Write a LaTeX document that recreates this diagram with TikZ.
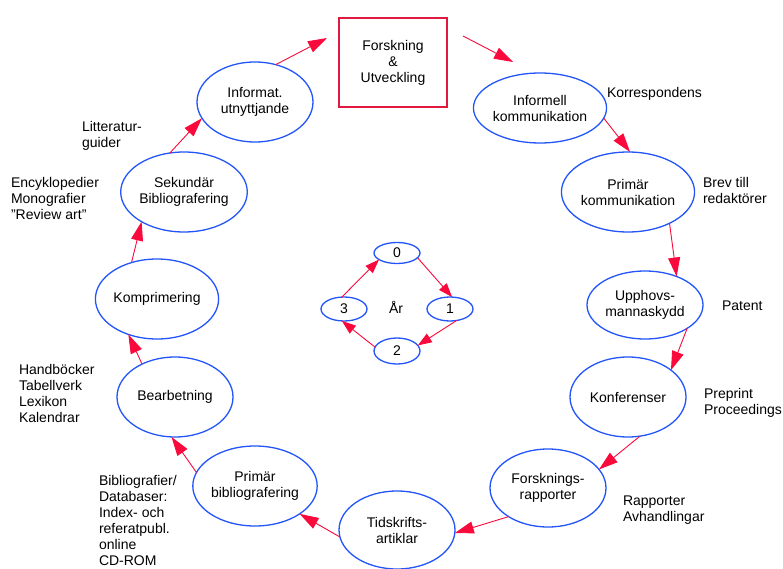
\documentclass[tikz,border=0pt]{standalone}
\usepackage{fontspec}
\setmainfont{Liberation Sans}
\usetikzlibrary{shapes.geometric,arrows.meta}
\definecolor{eblue}{RGB}{35,85,250}
\definecolor{ared}{RGB}{250,10,60}
\definecolor{bred}{RGB}{225,25,65}
\begin{document}
\begin{tikzpicture}[x=1pt,y=-1pt,
  every node/.style={font=\fontsize{14pt}{16pt}\selectfont, inner sep=0pt, outer sep=0pt},
  oval/.style={ellipse, draw=eblue, line width=1.3pt, minimum width=116pt, minimum height=80pt, align=center},
  small/.style={ellipse, draw=eblue, line width=1.3pt, minimum width=46pt, minimum height=24pt},
  rbox/.style={draw=bred, line width=1.3pt, minimum width=108pt, minimum height=89pt, align=center},
  lbl/.style={anchor=west, align=left},
  flow/.style={draw=ared, line width=0.9pt, -{Triangle[length=19pt,width=12pt]}},
  sflow/.style={draw=ared, line width=0.9pt, -{Triangle[length=14pt,width=10pt]}}
]
\useasboundingbox (0,0) rectangle (783,569);
\fill[white] (0,0) rectangle (783,569);

\node[rbox] (box) at (393,62.5) {Forskning\\\&\\Utveckling};
\node[oval] (inf) at (255,102) {Informat.\\utnyttjande};
\node[oval, minimum height=70pt] (ik) at (540,108) {Informell\\kommunikation};
\node[oval] (pk) at (628,192) {Primär\\kommunikation};
\node[oval, minimum height=68pt] (up) at (645,305) {Upphovs-\\mannaskydd};
\node[oval] (konf) at (628,397) {Konferenser};
\node[oval, minimum height=78pt] (fr) at (548,488) {Forsknings-\\rapporter};
\node[oval, minimum height=78pt] (ta) at (397,530) {Tidskrifts-\\artiklar};
\node[oval] (pb) at (255,486) {Primär\\bibliografering};
\node[oval] (bea) at (175,397) {Bearbetning};
\node[oval] (kom) at (157,299) {Komprimering};
\node[oval] (sek) at (184,192) {Sekundär\\Bibliografering};

\node[small, minimum height=21pt] (n0) at (397,253) {0};
\node[small] (n1) at (450,309) {1};
\node[small, minimum height=26pt] (n2) at (397,351) {2};
\node[small] (n3) at (344,309) {3};
\node (ar) at (396,307) {År};

\node[lbl] (t1) at (607,94) {Korrespondens};
\node[lbl] (t2) at (703,190) {Brev till\\redaktörer};
\node[lbl] (t3) at (722,306) {Patent};
\node[lbl] (t4) at (704,403) {Preprint\\Proceedings};
\node[lbl] (t5) at (623,510) {Rapporter\\Avhandlingar};
\node[lbl] (t6) at (99,520) {Bibliografier/\\Databaser:\\Index- och\\referatpubl.\\online\\CD-ROM};
\node[lbl] (t7) at (19,393) {Handböcker\\Tabellverk\\Lexikon\\Kalendrar};
\node[lbl] (t8) at (82,136) {Litteratur-\\guider};
\node[lbl] (t9) at (11,198) {Encyklopedier\\Monografier\\"Review art"};

\draw[flow] (inf.61.7) -- ([shift={(-12,20)}]box.north west);
\draw[flow] ([shift={(16,18)}]box.north east) -- ([shift={(-27,-11)}]ik.north);
\draw[flow] (ik.-9) -- (pk.87);
\draw[flow] (pk.-37) -- (up.42);
\draw[flow] (up.-29) -- (konf.32);
\draw[flow] (konf.-73) -- (fr.20);
\draw[flow] (fr.216) -- (ta.-3);
\draw[flow] (ta.187) -- (pb.-32);
\draw[flow] (pb.167) -- (bea.-95);
\draw[flow] (bea.135) -- (kom.231);
\draw[flow] (kom.125) -- (sek.-145);
\draw[flow] (sek.110) -- (inf.197);

\draw[sflow] (n0.-13) -- (n1.80);
\draw[sflow] (n1.-60) -- (n2.15);
\draw[sflow] (n2.170) -- (n3.-100);
\draw[sflow] (n3.100) -- (n0.200);
\end{tikzpicture}
\end{document}
